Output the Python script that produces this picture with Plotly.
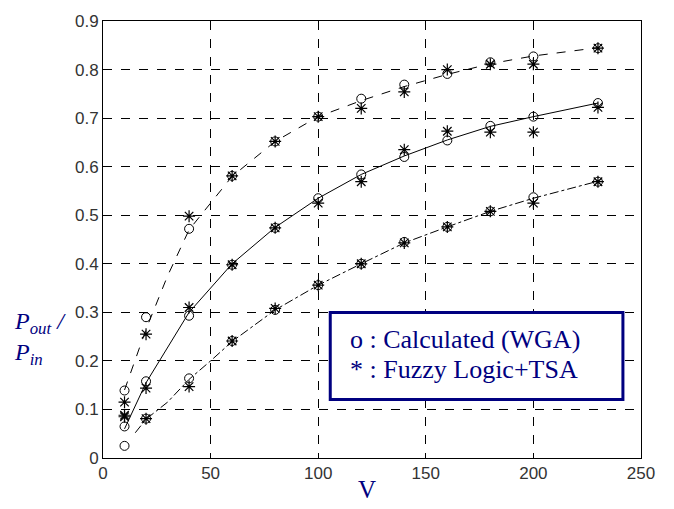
import plotly.graph_objects as go

# ---- data ----
v_points = [10, 20, 40, 60, 80, 100, 120, 140, 160, 180, 200, 230]

upper_calc = [0.139, 0.290, 0.472, 0.581, 0.652, 0.703, 0.740, 0.769, 0.791, 0.815, 0.827, 0.844]
upper_fuzzy = [0.115, 0.255, 0.498, 0.581, 0.652, 0.703, 0.720, 0.754, 0.800, 0.811, 0.811, 0.844]
mid_calc = [0.065, 0.158, 0.293, 0.398, 0.474, 0.535, 0.584, 0.620, 0.654, 0.684, 0.703, 0.731]
mid_fuzzy = [0.088, 0.144, 0.310, 0.398, 0.474, 0.525, 0.569, 0.635, 0.673, 0.671, 0.671, 0.722]
low_calc = [0.025, 0.081, 0.164, 0.241, 0.305, 0.356, 0.400, 0.445, 0.476, 0.508, 0.537, 0.569]
low_fuzzy = [0.085, 0.081, 0.147, 0.241, 0.308, 0.356, 0.400, 0.443, 0.476, 0.508, 0.525, 0.569]

# fitted curves
upper_line_v = [10, 20, 30, 40, 50, 60, 80, 100, 120, 140, 160, 180, 200, 230]
upper_line_y = [0.140, 0.265, 0.375, 0.470, 0.525, 0.580, 0.652, 0.703, 0.736, 0.765, 0.790, 0.812, 0.828, 0.845]
mid_line_v = [10, 20, 40, 60, 80, 100, 120, 140, 160, 180, 200, 230]
mid_line_y = [0.060, 0.155, 0.300, 0.400, 0.475, 0.535, 0.584, 0.622, 0.655, 0.683, 0.703, 0.731]
low_line_v = [15, 20, 30, 40, 50, 60, 80, 100, 120, 140, 160, 180, 200, 230]
low_line_y = [0.052, 0.080, 0.115, 0.162, 0.200, 0.240, 0.305, 0.356, 0.400, 0.443, 0.476, 0.508, 0.535, 0.570]

x_ticks = [0, 50, 100, 150, 200, 250]
y_ticks = [0, 0.1, 0.2, 0.3, 0.4, 0.5, 0.6, 0.7, 0.8, 0.9]
y_tick_text = ["0", "0.1", "0.2", "0.3", "0.4", "0.5", "0.6", "0.7", "0.8", "0.9"]

legend_lines = ["o : Calculated (WGA)", "* : Fuzzy Logic+TSA"]
legend_y = [0.2446, 0.1817]

navy = "#000080"
serif = "Liberation Serif, Times New Roman, serif"

fig = go.Figure()

for lv, ly, dash in [(upper_line_v, upper_line_y, "dash"),
                     (mid_line_v, mid_line_y, "solid"),
                     (low_line_v, low_line_y, "dashdot")]:
    fig.add_trace(go.Scatter(x=lv, y=ly, mode="lines",
                             line=dict(color="black", width=1, dash=dash),
                             showlegend=False, hoverinfo="skip"))

for ys in [upper_calc, mid_calc, low_calc]:
    fig.add_trace(go.Scatter(x=v_points, y=ys, mode="markers",
                             marker=dict(symbol="circle-open", size=9,
                                         color="black", line=dict(width=1, color="black")),
                             showlegend=False))

for ys in [upper_fuzzy, mid_fuzzy, low_fuzzy]:
    fig.add_trace(go.Scatter(x=v_points, y=ys, mode="markers",
                             marker=dict(symbol="asterisk-open", size=10,
                                         color="black", line=dict(width=1.2, color="black")),
                             showlegend=False))

# legend box
fig.add_shape(type="rect", xref="x", yref="y", x0=105.6, x1=241.6, y0=0.1206, y1=0.2995,
              line=dict(color=navy, width=3), fillcolor="white", layer="above")
for txt, ly in zip(legend_lines, legend_y):
    fig.add_annotation(x=114.0, y=ly, xref="x", yref="y", text=txt,
                       showarrow=False, xanchor="left", yanchor="middle",
                       font=dict(family=serif, size=26, color=navy))

# axis labels
fig.add_annotation(x=0.4916, y=-0.0724, xref="paper", yref="paper", text="V",
                   showarrow=False, xanchor="center", yanchor="middle",
                   font=dict(family=serif, size=25, color=navy))
fig.add_annotation(x=-0.17, y=0.274, xref="paper", yref="paper",
                   text="<i>P</i><sub><i>out</i></sub><i> /</i><br><i>P</i><sub><i>in</i></sub>",
                   showarrow=False, xanchor="left", yanchor="middle", align="left",
                   font=dict(family=serif, size=24, color=navy))

axis_common = dict(showline=True, linecolor="black", linewidth=1, mirror=True,
                   ticks="inside", ticklen=5, tickcolor="black",
                   showgrid=True, gridcolor="black", gridwidth=1, griddash="dash",
                   zeroline=False,
                   tickfont=dict(family="Liberation Sans, Arial, sans-serif", size=17, color="#333333"))

fig.update_xaxes(range=[0, 250], tickvals=x_ticks, **axis_common)
fig.update_yaxes(range=[0, 0.9], tickvals=y_ticks, ticktext=y_tick_text, **axis_common)

fig.update_layout(width=674, height=509, margin=dict(l=103, r=33, t=16, b=51),
                  plot_bgcolor="white", paper_bgcolor="white", showlegend=False)

fig.write_html("out.html", config={"displayModeBar": False},
               post_script="document.body.style.margin='0';document.body.style.overflow='hidden';")
